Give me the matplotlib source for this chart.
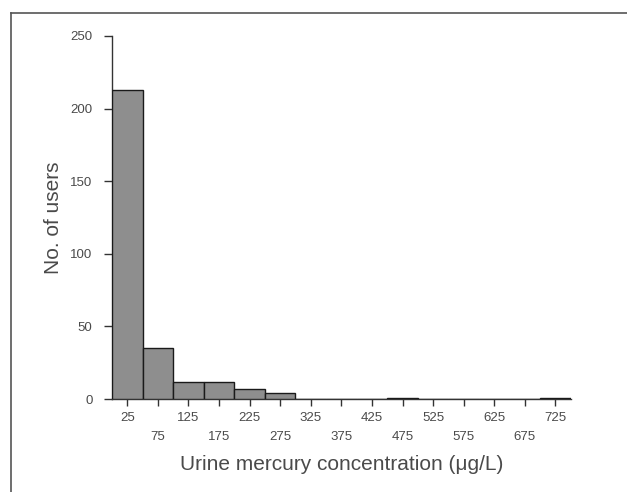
import numpy as np
import matplotlib
matplotlib.use("Agg")
import matplotlib.pyplot as plt
from matplotlib.lines import Line2D

plt.rcParams["font.family"] = ["Liberation Sans", "DejaVu Sans"]

# Histogram of urine mercury: bin centres (ug/L) and number of users per bin
bin_centres = [25, 75, 125, 175, 225, 275, 325, 375, 425, 475, 525, 575, 625, 675, 725]
counts = [213, 35, 12, 12, 7, 4, 0, 0, 0, 1, 0, 0, 0, 0, 1]
bin_width = 50
upper_ticks = [25, 125, 225, 325, 425, 525, 625, 725]
lower_ticks = [75, 175, 275, 375, 475, 575, 675]
y_ticks = [0, 50, 100, 150, 200, 250]

TXT = "#4a4a4a"
fig = plt.figure(figsize=(6.27, 4.92), dpi=100)
ax = fig.add_axes([0.1786, 0.189, 0.7316, 0.738])

ax.bar(bin_centres, counts, width=bin_width, color="#8e8e8e",
       edgecolor="#1a1a1a", linewidth=1.0, zorder=3)

ax.set_xlim(0, 750)
ax.set_ylim(0, 250)
ax.set_yticks(y_ticks)
ax.set_xticks(upper_ticks)
ax.set_xticks(lower_ticks, minor=True)
ax.set_xticklabels([str(t) for t in upper_ticks])
ax.set_xticklabels([str(t) for t in lower_ticks], minor=True)

for s in ("top", "right"):
    ax.spines[s].set_visible(False)
for s in ("left", "bottom"):
    ax.spines[s].set_color("#333333")
    ax.spines[s].set_linewidth(1.0)

ax.tick_params(axis="y", direction="out", length=6, width=1, color="#333333",
               labelsize=9.5, labelcolor=TXT, pad=8)
ax.tick_params(axis="x", which="major", direction="out", length=5, width=1,
               color="#333333", labelsize=9.5, labelcolor=TXT, pad=4)
ax.tick_params(axis="x", which="minor", direction="out", length=5, width=1,
               color="#333333", labelsize=9.5, labelcolor=TXT, pad=18)

ax.set_ylabel("No. of users", fontsize=15, color=TXT, labelpad=5)
ax.set_xlabel("Urine mercury concentration (\u03bcg/L)", fontsize=15, color=TXT,
              labelpad=9)

# partial frame around the figure (top and left edges)
fig.add_artist(Line2D([11 / 627, 1], [1 - 13 / 492, 1 - 13 / 492],
                      transform=fig.transFigure, color="#555555", lw=1.2))
fig.add_artist(Line2D([11 / 627, 11 / 627], [0, 1 - 13 / 492],
                      transform=fig.transFigure, color="#555555", lw=1.2))

fig.savefig("out.png", dpi=100)
